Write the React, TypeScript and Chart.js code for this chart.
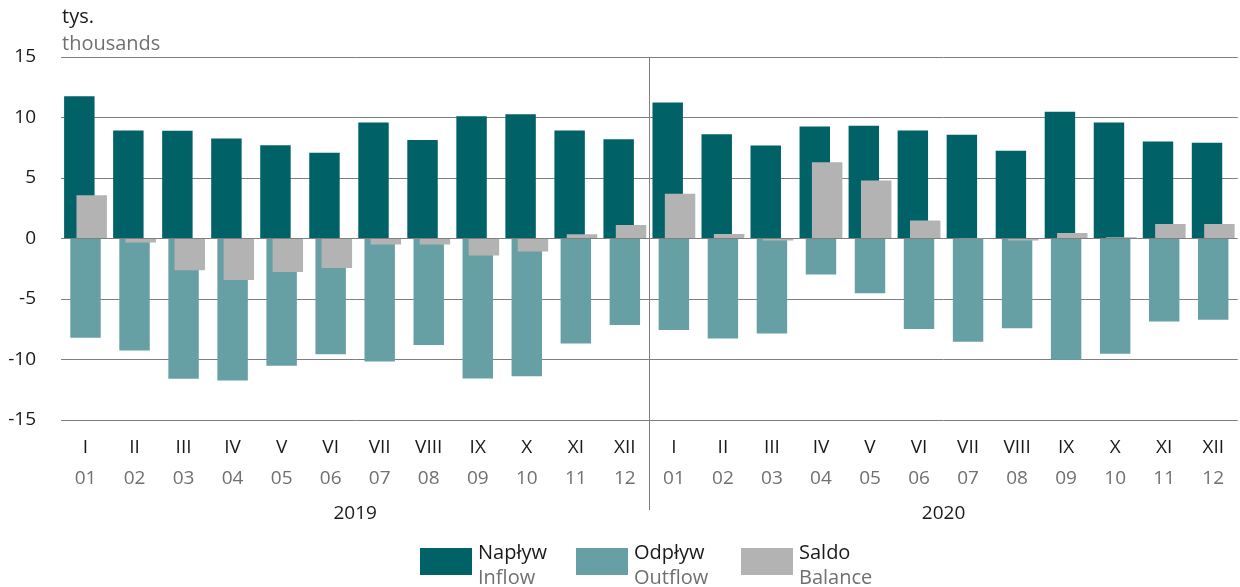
import React, { useEffect, useRef } from 'react';
import { Chart, registerables } from 'chart.js';

Chart.register(...registerables);

const romanLabels = ['I', 'II', 'III', 'IV', 'V', 'VI', 'VII', 'VIII', 'IX', 'X', 'XI', 'XII', 'I', 'II', 'III', 'IV', 'V', 'VI', 'VII', 'VIII', 'IX', 'X', 'XI', 'XII'];
const monthLabels = ['01', '02', '03', '04', '05', '06', '07', '08', '09', '10', '11', '12', '01', '02', '03', '04', '05', '06', '07', '08', '09', '10', '11', '12'];
const years = ['2019', '2020'];
const yearCenters = [5.5, 17.5];
const inflow = [11.76, 8.93, 8.9, 8.26, 7.71, 7.08, 9.59, 8.15, 10.1, 10.27, 8.93, 8.2, 11.24, 8.62, 7.69, 9.26, 9.31, 8.93, 8.57, 7.25, 10.47, 9.59, 8.02, 7.91];
const outflow = [-8.21, -9.26, -11.6, -11.74, -10.52, -9.56, -10.17, -8.8, -11.58, -11.39, -8.67, -7.15, -7.57, -8.26, -7.85, -2.98, -4.52, -7.47, -8.54, -7.41, -10.03, -9.53, -6.86, -6.72];
const balance = [3.58, -0.33, -2.62, -3.42, -2.77, -2.44, -0.5, -0.5, -1.4, -1.07, 0.36, 1.12, 3.7, 0.38, -0.16, 6.3, 4.79, 1.48, 0.03, -0.16, 0.46, 0.1, 1.2, 1.2];
const yMin = -15;
const yMax = 15;
const yStep = 5;

const seriesNames = [
  { pl: 'Napływ', en: 'Inflow', color: '#006266' },
  { pl: 'Odpływ', en: 'Outflow', color: '#66A0A4' },
  { pl: 'Saldo', en: 'Balance', color: '#B3B3B3' },
];

const FONT = '"Open Sans", sans-serif';
const DARK = '#1a1a1a';
const GREY = '#707070';
const GRID = '#7f7f7f';

const customPlugin = {
  id: 'customDraw',
  beforeDatasetDraw(chart: any, args: any) {
    if (args.index === 2) return false;
  },
  afterDatasetsDraw(chart: any) {
    const ctx = chart.ctx;
    const a = chart.chartArea;
    ctx.save();
    ctx.beginPath();
    ctx.rect(a.left, a.top, a.right - a.left, a.bottom - a.top);
    ctx.clip();
    chart.getDatasetMeta(2).controller.draw();
    ctx.restore();

    const x = chart.scales.x;
    const px = Math.round((x.getPixelForValue(11) + x.getPixelForValue(12)) / 2) + 0.5;
    const bottom = chart.scales.x3.top + 18;
    ctx.save();
    ctx.strokeStyle = GRID;
    ctx.lineWidth = 1;
    ctx.beginPath();
    ctx.moveTo(px, a.top);
    ctx.lineTo(px, bottom);
    ctx.stroke();
    ctx.restore();
  },
};

export default function App() {
  const canvasRef = useRef<HTMLCanvasElement | null>(null);

  useEffect(() => {
    document.body.style.margin = '0';
    const canvas = canvasRef.current;
    if (!canvas) return;
    const chart = new Chart(canvas, {
      type: 'bar',
      data: {
        labels: romanLabels,
        datasets: [
          { label: seriesNames[0].pl, data: inflow, backgroundColor: seriesNames[0].color },
          { label: seriesNames[1].pl, data: outflow, backgroundColor: seriesNames[1].color },
          { label: seriesNames[2].pl, data: balance, backgroundColor: seriesNames[2].color },
        ],
      },
      options: {
        responsive: false,
        animation: false,
        devicePixelRatio: 1,
        layout: { padding: { top: 57, left: 0, right: 0, bottom: 60 } },
        datasets: {
          bar: {
            categoryPercentage: 0.3786,
            barPercentage: 4.92,
            borderWidth: 0,
          },
        },
        plugins: {
          legend: { display: false },
          tooltip: { enabled: false },
          title: { display: false },
        },
        scales: {
          y: {
            min: yMin,
            max: yMax,
            ticks: {
              stepSize: yStep,
              padding: 25,
              color: DARK,
              font: { family: FONT, size: 19 },
            },
            grid: { color: GRID, lineWidth: 1, drawTicks: false },
            border: { display: false },
            afterFit: (s: any) => { s.width = 61; },
          },
          x: {
            position: 'bottom',
            weight: 0,
            offset: true,
            grid: { display: false, drawTicks: false },
            border: { display: false },
            ticks: {
              autoSkip: false,
              maxRotation: 0,
              minRotation: 0,
              padding: 16,
              color: DARK,
              font: { family: FONT, size: 19 },
            },
            afterFit: (s: any) => { s.height = 42; },
          },
          x2: {
            type: 'category',
            position: 'bottom',
            weight: 1,
            labels: monthLabels,
            offset: true,
            grid: { display: false, drawTicks: false },
            border: { display: false },
            ticks: {
              autoSkip: false,
              maxRotation: 0,
              minRotation: 0,
              padding: 5,
              color: GREY,
              font: { family: FONT, size: 19 },
            },
            afterFit: (s: any) => { s.height = 30; },
          },
          x3: {
            type: 'linear',
            position: 'bottom',
            weight: 2,
            offset: false,
            min: -0.5,
            max: romanLabels.length - 0.5,
            grid: { display: false, drawTicks: false },
            border: { display: false },
            afterBuildTicks: (s: any) => { s.ticks = yearCenters.map((v) => ({ value: v })); },
            ticks: {
              autoSkip: false,
              maxRotation: 0,
              minRotation: 0,
              padding: 10,
              color: DARK,
              font: { family: FONT, size: 19 },
              callback: (v: any) => years[Math.floor(Number(v) / 12)],
            },
            afterFit: (s: any) => { s.height = 35; },
          },
        },
      },
      plugins: [customPlugin],
    } as any);
    return () => chart.destroy();
  }, []);

  const legendLefts = [420, 576, 741];

  return (
    <div style={{ position: 'relative', width: 1240, height: 587, overflow: 'hidden', fontFamily: FONT }}>
      <canvas ref={canvasRef} width={1240} height={587} style={{ display: 'block', width: 1240, height: 587 }} />
      <div style={{ position: 'absolute', left: 62, top: 2, fontSize: 20, lineHeight: '27px' }}>
        <div style={{ color: DARK }}>tys.</div>
        <div style={{ color: GREY }}>thousands</div>
      </div>
      {seriesNames.map((s, i) => (
        <div key={s.pl} style={{ position: 'absolute', left: legendLefts[i], top: 539, display: 'flex' }}>
          <div style={{ width: 52, height: 27, marginTop: 9, background: s.color }} />
          <div style={{ marginLeft: 6, fontSize: 20, lineHeight: '25px', whiteSpace: 'nowrap' }}>
            <div style={{ color: DARK }}>{s.pl}</div>
            <div style={{ color: GREY }}>{s.en}</div>
          </div>
        </div>
      ))}
    </div>
  );
}
